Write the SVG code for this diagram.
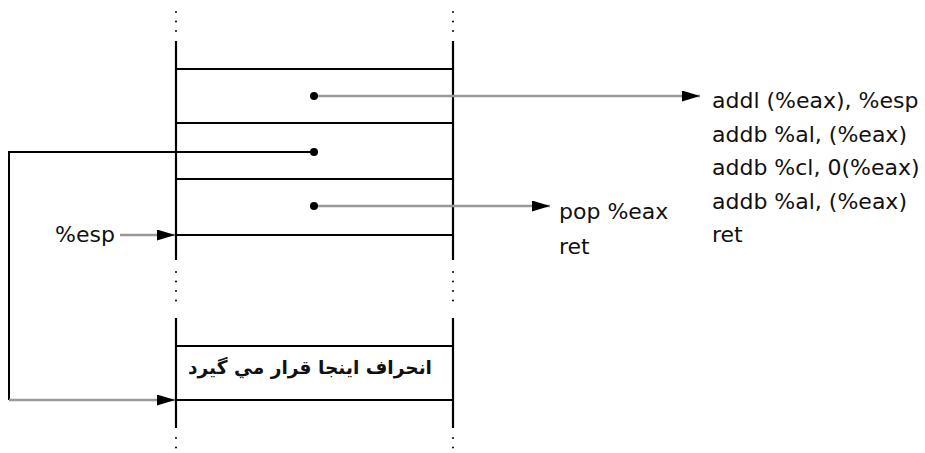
<svg xmlns="http://www.w3.org/2000/svg" width="925" height="453" viewBox="0 0 925 453">
  <style>
    .wall { stroke: #000; stroke-width: 2.2; fill: none; }
    .slot { stroke: #000; stroke-width: 2.2; fill: none; }
    .dots { stroke: #000; stroke-width: 2; stroke-linecap: round; stroke-dasharray: 0 9.5; fill: none; }
    .link { stroke: #000; stroke-width: 2; fill: none; }
    .ptr { stroke: #999; stroke-width: 2.5; fill: none; }
    .pin { fill: #000; }
    .code { font-family: "DejaVu Sans", "Liberation Sans", sans-serif; font-size: 22px; fill: #111; }
    .fa { font-family: "DejaVu Sans", "Noto Sans", sans-serif; font-size: 19px; font-weight: bold; fill: #111; }
  </style>
  <defs>
    <marker id="head" markerUnits="userSpaceOnUse" markerWidth="18" markerHeight="11" refX="18" refY="5.5" orient="auto">
      <path d="M0,0 L18,5.5 L0,11 z" fill="#000"/>
    </marker>
  </defs>

  <!-- stack frame -->
  <g id="stack">
    <path class="dots" d="M176,12 V32 M453,12 V32"/>
    <path class="wall" d="M176,41 V260 M453,41 V260"/>
    <path class="dots" d="M176,272 V308 M453,272 V308"/>
    <path class="wall" d="M176,318 V428 M453,318 V428"/>
    <path class="dots" d="M176,438 V448 M453,438 V448"/>
    <path class="slot" d="M176,69 H453 M176,123 H453 M176,179 H453 M176,235 H453"/>
  </g>

  <!-- overflow slot -->
  <g id="overflow">
    <path class="slot" d="M176,346 H453 M176,400 H453"/>
    <text class="fa" x="310" y="374" text-anchor="middle" direction="rtl" textLength="244" lengthAdjust="spacingAndGlyphs">انحراف اينجا قرار مي گيرد</text>
  </g>

  <!-- gadget listings -->
  <g id="gadget-long">
    <text class="code" x="712" y="108">addl (%eax), %esp</text>
    <text class="code" x="712" y="141.5">addb %al, (%eax)</text>
    <text class="code" x="712" y="175">addb %cl, 0(%eax)</text>
    <text class="code" x="712" y="208.5">addb %al, (%eax)</text>
    <text class="code" x="712" y="242">ret</text>
  </g>
  <g id="gadget-pop">
    <text class="code" x="559" y="219">pop %eax</text>
    <text class="code" x="559" y="254">ret</text>
  </g>
  <g id="esp-label">
    <text class="code" x="55" y="242">%esp</text>
  </g>

  <!-- connectors -->
  <g id="connectors">
    <path class="ptr" d="M314,96 H700" marker-end="url(#head)"/>
    <path class="ptr" d="M314,206 H550" marker-end="url(#head)"/>
    <path class="ptr" d="M120,235 H175" marker-end="url(#head)"/>
    <path class="link" d="M314,152 H9 V400"/>
    <path class="ptr" d="M9,400 H175" marker-end="url(#head)"/>
    <circle class="pin" cx="314" cy="96" r="4"/>
    <circle class="pin" cx="314" cy="152" r="4"/>
    <circle class="pin" cx="314" cy="206" r="4"/>
  </g>
</svg>
